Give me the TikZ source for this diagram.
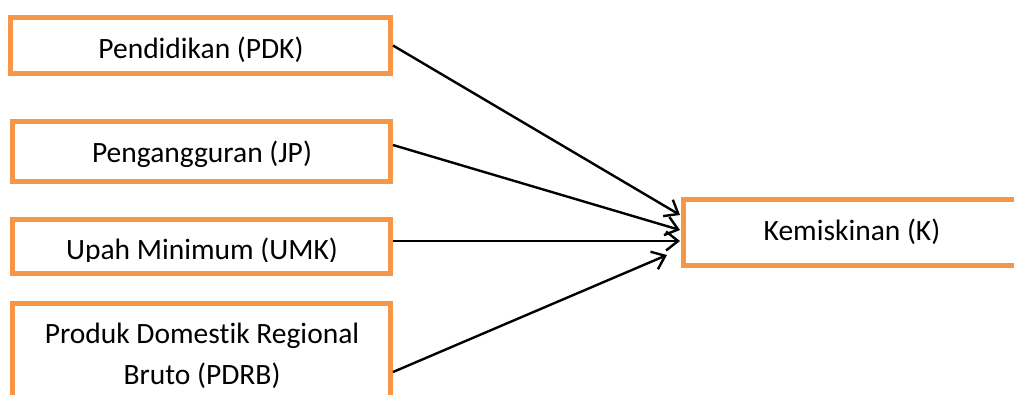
\documentclass[tikz,border=0pt]{standalone}
\usepackage{fontspec}
\setmainfont{Carlito}[Ligatures={NoCommon}]
\usetikzlibrary{arrows.meta}
\definecolor{boxorange}{HTML}{F79646}
\begin{document}
\begin{tikzpicture}[x=1pt,y=-1pt,
  varbox/.style={rectangle, draw=boxorange, line width=5pt, fill=white, inner sep=0pt},
  lbl/.style={font=\fontsize{29.5}{35}\selectfont, inner sep=0pt, anchor=base, text=black},
  conn/.style={draw=black, line width=2.4pt, -{Straight Barb[length=12pt,width=19pt,line width=2.4pt]}}
]
\useasboundingbox (0,0) rectangle (1014,394);
\clip (0,0) rectangle (1014,394);
\fill[white] (0,0) rectangle (1014,394);

\node[varbox, minimum width=380pt, minimum height=56pt] (pdk) at (200.5,45.5) {};
\node[varbox, minimum width=378pt, minimum height=60pt] (jp) at (201.5,151.5) {};
\node[varbox, minimum width=378pt, minimum height=54pt] (umk) at (201.5,246.5) {};
\node[varbox, minimum width=378pt, minimum height=126.5pt] (pdrb) at (201.5,366.75) {};
\node[varbox, minimum width=341.5pt, minimum height=66pt] (k) at (854.25,232.5) {};

\node[lbl] (tpdk) at (201,58) {Pendidikan (PDK)};
\node[lbl] (tjp) at (202,162) {Pengangguran (JP)};
\begin{scope}
\clip (14,221) rectangle (389,261.5);
\node[lbl] (tumk) at (202,259) {Upah Minimum (UMK)};
\end{scope}
\node[lbl] (tpdrb1) at (202,343) {Produk Domestik Regional};
\node[lbl] (tpdrb2) at (202,384) {Bruto (PDRB)};
\node[lbl] (tk) at (852,240) {Kemiskinan (K)};

\draw[conn] (pdk.east) -- ([xshift=-1pt,yshift=17.5pt]k.west);
\draw[conn] ([yshift=6.5pt]jp.east) -- ([xshift=-1pt,yshift=2.5pt]k.west);
\draw[conn] ([yshift=5.5pt]umk.east) -- ([xshift=-1pt,yshift=-8.5pt]k.west);
\draw[conn] ([yshift=-5.25pt]pdrb.east) -- ([xshift=-14pt,yshift=-22.5pt]k.west);
\end{tikzpicture}
\end{document}
